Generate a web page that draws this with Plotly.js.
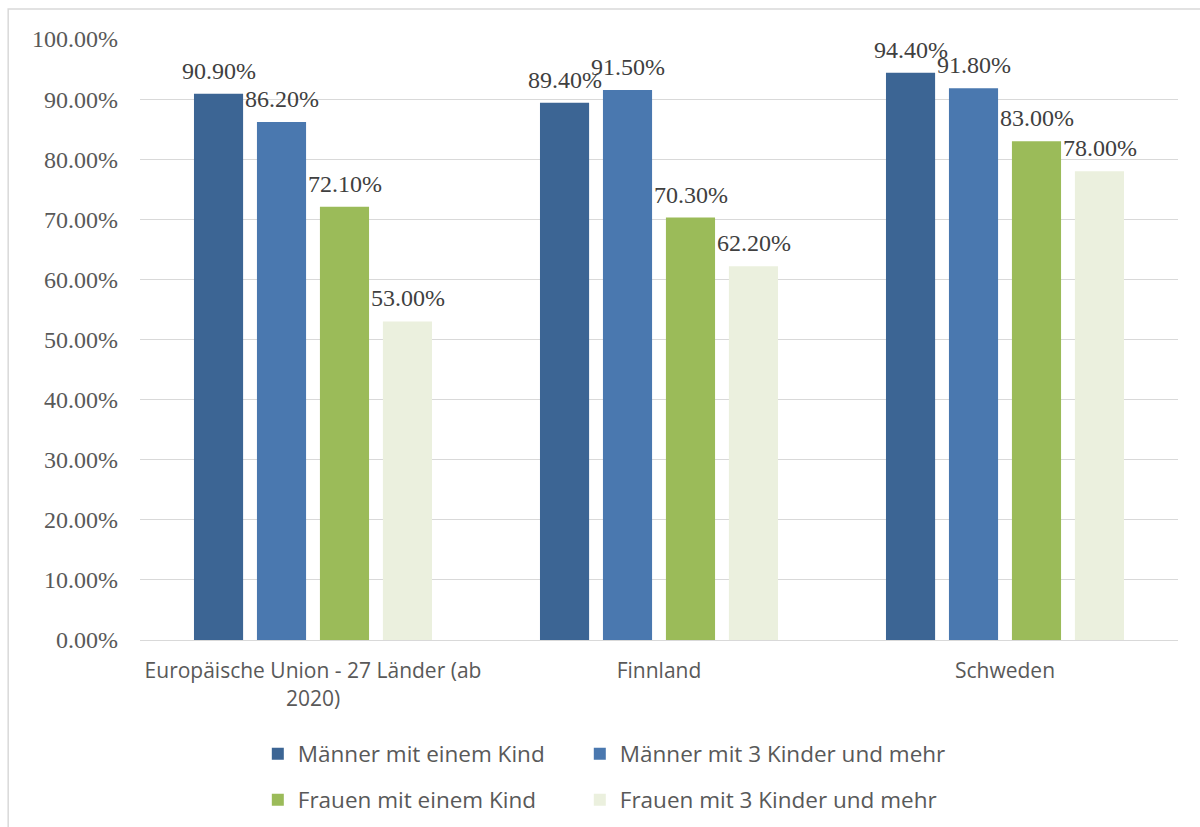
<!DOCTYPE html>
<html>
<head>
<meta charset="utf-8">
<script src="https://cdn.plot.ly/plotly-3.0.1.min.js"></script>
<style>html,body{margin:0;padding:0;background:#fff;}</style>
</head>
<body>
<div id="chart" style="width:1200px;height:827px;"></div>
<script>
const categories = ["Europäische Union - 27 Länder (ab<br>2020)", "Finnland", "Schweden"];
const seriesNames = ["Männer mit einem Kind", "Männer mit 3 Kinder und mehr", "Frauen mit einem Kind", "Frauen mit 3 Kinder und mehr"];
const maennerEinKind = [90.9, 89.4, 94.4];
const maennerDreiKinder = [86.2, 91.5, 91.8];
const frauenEinKind = [72.1, 70.3, 83.0];
const frauenDreiKinder = [53.0, 62.2, 78.0];
const colors = ["#3C6594", "#4A78AF", "#9BBB59", "#EBF0DE"];
const values = [maennerEinKind, maennerDreiKinder, frauenEinKind, frauenDreiKinder];

const legendIds = ["legend", "legend2", "legend3", "legend4"];
const traces = values.map((v, i) => ({
  type: "bar",
  name: seriesNames[i],
  x: categories,
  y: v,
  marker: {color: colors[i]},
  legend: legendIds[i],
  hoverinfo: "none"
}));

const slot = 63;
const annotations = [];
values.forEach((v, i) => {
  v.forEach((val, j) => {
    annotations.push({
      x: categories[j], y: val, xref: "x", yref: "y",
      text: val.toFixed(2) + "%",
      showarrow: false, yanchor: "bottom", xanchor: "center",
      xshift: (i - 1.5) * slot, yshift: 8,
      font: {family: "Liberation Serif, serif", size: 24, color: "#404040"}
    });
  });
});

const legendFont = {family: "Open Sans, sans-serif", size: 22.5, color: "#595959"};
const legendCols = [0.1135, 0.4237];
const legendRows = [-0.154, -0.2305];
function mkLegend(i) {
  return {
    orientation: "h", x: legendCols[i % 2], xanchor: "left",
    y: legendRows[Math.floor(i / 2)], yanchor: "top",
    font: legendFont, bgcolor: "rgba(0,0,0,0)"
  };
}

const layout = {
  width: 1200, height: 827,
  margin: {l: 140, r: 22, t: 39, b: 187, autoexpand: false},
  paper_bgcolor: "#fff", plot_bgcolor: "#fff",
  barmode: "group", bargap: 0.272, bargroupgap: 0.22,
  showlegend: true,
  legend: mkLegend(0), legend2: mkLegend(1), legend3: mkLegend(2), legend4: mkLegend(3),
  xaxis: {
    showgrid: false, showline: true, linecolor: "#d9d9d9", linewidth: 1,
    ticks: "", tickfont: {family: "Open Sans, sans-serif", size: 21, color: "#595959"},
    ticklabelstandoff: 12
  },
  yaxis: {
    range: [0, 100], dtick: 10, tickformat: ".2f", ticksuffix: "%",
    showgrid: true, gridcolor: "#d9d9d9", gridwidth: 1,
    zeroline: false, showline: false, ticks: "",
    tickfont: {family: "Liberation Serif, serif", size: 24, color: "#595959"},
    ticklabelstandoff: 21
  },
  annotations: annotations,
  shapes: [{
    type: "rect", xref: "paper", yref: "paper",
    x0: -0.127, x1: 1.03, y0: -0.35, y1: 1.05,
    line: {color: "#d9d9d9", width: 1.5}, fillcolor: "rgba(0,0,0,0)", layer: "below"
  }]
};

Plotly.newPlot("chart", traces, layout, {staticPlot: true, displayModeBar: false});
</script>
</body>
</html>
